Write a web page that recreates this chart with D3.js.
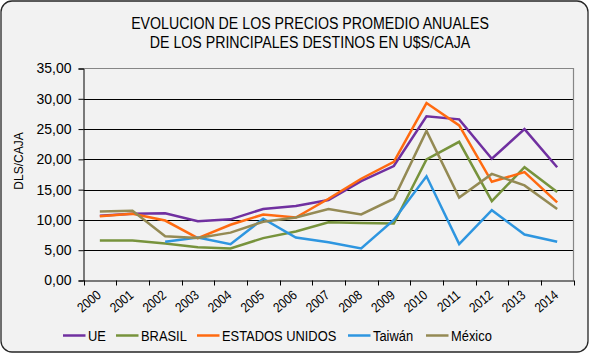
<!DOCTYPE html>
<html><head><meta charset="utf-8">
<script src="https://cdn.jsdelivr.net/npm/d3@7"></script>
<style>
html,body{margin:0;padding:0;background:#fff;}
text{font-family:"Liberation Sans",Arial,sans-serif;fill:#000;}
</style></head>
<body><svg id="c" width="590" height="354"></svg>
<script>
const years = ["2000","2001","2002","2003","2004","2005","2006","2007","2008","2009","2010","2011","2012","2013","2014"];
const ue      = [10.7, 11.0, 11.1, 9.8, 10.1, 11.8, 12.3, 13.3, 16.4, 18.9, 27.1, 26.6, 20.1, 25.0, 18.7];
const brasil  = [6.6, 6.6, 6.1, 5.5, 5.3, 7.0, 8.1, 9.6, 9.5, 9.4, 20.0, 22.9, 13.1, 18.7, 14.6];
const eeuu    = [10.6, 11.0, 9.9, 7.0, 9.2, 10.9, 10.4, 13.5, 16.8, 19.6, 29.3, 25.6, 16.3, 17.9, 12.9];
const taiwan  = [null, null, 6.4, 7.1, 6.0, 10.2, 7.1, 6.3, 5.3, 10.0, 17.2, 6.0, 11.6, 7.6, 6.4];
const mexico  = [11.4, 11.5, 7.3, 7.0, 7.9, 9.7, 10.4, 11.8, 10.9, 13.5, 24.7, 13.7, 17.6, 15.7, 11.8];
const seriesNames = ["UE","BRASIL","ESTADOS UNIDOS","Taiwán","México"];
const yTicks = [0,5,10,15,20,25,30,35];
const titleLines = ["EVOLUCION DE LOS PRECIOS PROMEDIO ANUALES","DE LOS PRINCIPALES DESTINOS EN U$S/CAJA"];
const yTitle = "DLS/CAJA";

const colors = ["#7030a0","#77933c","#ff6a10","#2e96e0","#948a54"];
const seriesVals = [ue, brasil, eeuu, taiwan, mexico];
const SQ = 0.86; // horizontal condensing of the original rendering

const svg = d3.select("#c");
svg.append("rect").attr("x",1).attr("y",1).attr("width",587).attr("height",351)
  .attr("rx",11).attr("ry",11).attr("fill","#f2f2f2").attr("stroke","#262626").attr("stroke-width",1.3);

const L=83.5, R=573.5, T=68.5, B=280.5;
const x = d3.scaleBand().domain(years).range([L,R]);
const y = d3.scaleLinear().domain([0,35]).range([B,T]);
const loc = d3.formatLocale({decimal:",",thousands:".",grouping:[3],currency:["$",""]});
const fmt = loc.format(".2f");

// grid
svg.append("g").selectAll("line").data(yTicks.filter(v=>v>0 && v<35)).join("line")
  .attr("x1",L).attr("x2",R).attr("y1",d=>Math.round(y(d))+0.5).attr("y2",d=>Math.round(y(d))+0.5)
  .attr("stroke","#000").attr("stroke-width",1);
// plot border top/right
svg.append("path").attr("d",`M${L},${y(35)}H${R}V${B}`).attr("fill","none").attr("stroke","#868686").attr("stroke-width",1.2);

// y axis
const ya = svg.append("g").attr("transform",`translate(${L},0)`)
  .call(d3.axisLeft(y).tickValues(yTicks).tickSize(5).tickPadding(7).tickFormat(fmt));
ya.select(".domain").attr("stroke","#000");
ya.selectAll(".tick line").attr("stroke","#000");
ya.selectAll("text").attr("font-size",14).attr("fill","#000").style("font-family",'"Liberation Sans",Arial,sans-serif');

// x axis
const xa = svg.append("g").attr("transform",`translate(0,${B})`)
  .call(d3.axisBottom(x).tickSize(0).tickFormat(d=>d));
xa.select(".domain").attr("stroke","#000");
xa.selectAll(".tick text").attr("font-size",13.5).style("font-family",'"Liberation Sans",Arial,sans-serif')
  .attr("text-anchor","end").attr("dy",null).attr("y",0)
  .attr("transform",`translate(2,16) rotate(-40) scale(${SQ},1)`);
const bounds = years.map(d=>x(d)).concat([x(years[years.length-1])+x.bandwidth()]);
xa.append("g").selectAll("line").data(bounds).join("line")
  .attr("x1",d=>Math.round(d)+0.5).attr("x2",d=>Math.round(d)+0.5).attr("y1",0).attr("y2",5).attr("stroke","#000");

// lines
const line = d3.line().defined(d=>d.v!=null).x(d=>x(d.yr)+x.bandwidth()/2).y(d=>y(d.v));
seriesVals.forEach((vals,i)=>{
  svg.append("path").datum(years.map((yr,j)=>({yr, v: vals[j]})))
    .attr("d",line).attr("fill","none").attr("stroke",colors[i]).attr("stroke-width",2.5)
    .attr("stroke-linejoin","miter");
});

// titles
svg.append("g").selectAll("text").data(titleLines).join("text")
  .attr("transform",(d,i)=>`translate(310,${29+i*19}) scale(${SQ},1)`)
  .attr("text-anchor","middle").attr("font-size",16.5)
  .attr("fill","#1a1a1a").text(d=>d);
svg.append("text").attr("transform","translate(23,161) rotate(-90)").attr("text-anchor","middle")
  .attr("font-size",12).text(yTitle);

// legend
const legX = [63,116,197,348,426];
const lg = svg.append("g");
seriesNames.forEach((n,i)=>{
  lg.append("line").attr("x1",legX[i]).attr("x2",legX[i]+22.5).attr("y1",335.5).attr("y2",335.5)
    .attr("stroke",colors[i]).attr("stroke-width",2.5);
  lg.append("text").attr("transform",`translate(${legX[i]+25},341) scale(${SQ},1)`)
    .attr("font-size",15).text(n);
});
</script></body></html>
